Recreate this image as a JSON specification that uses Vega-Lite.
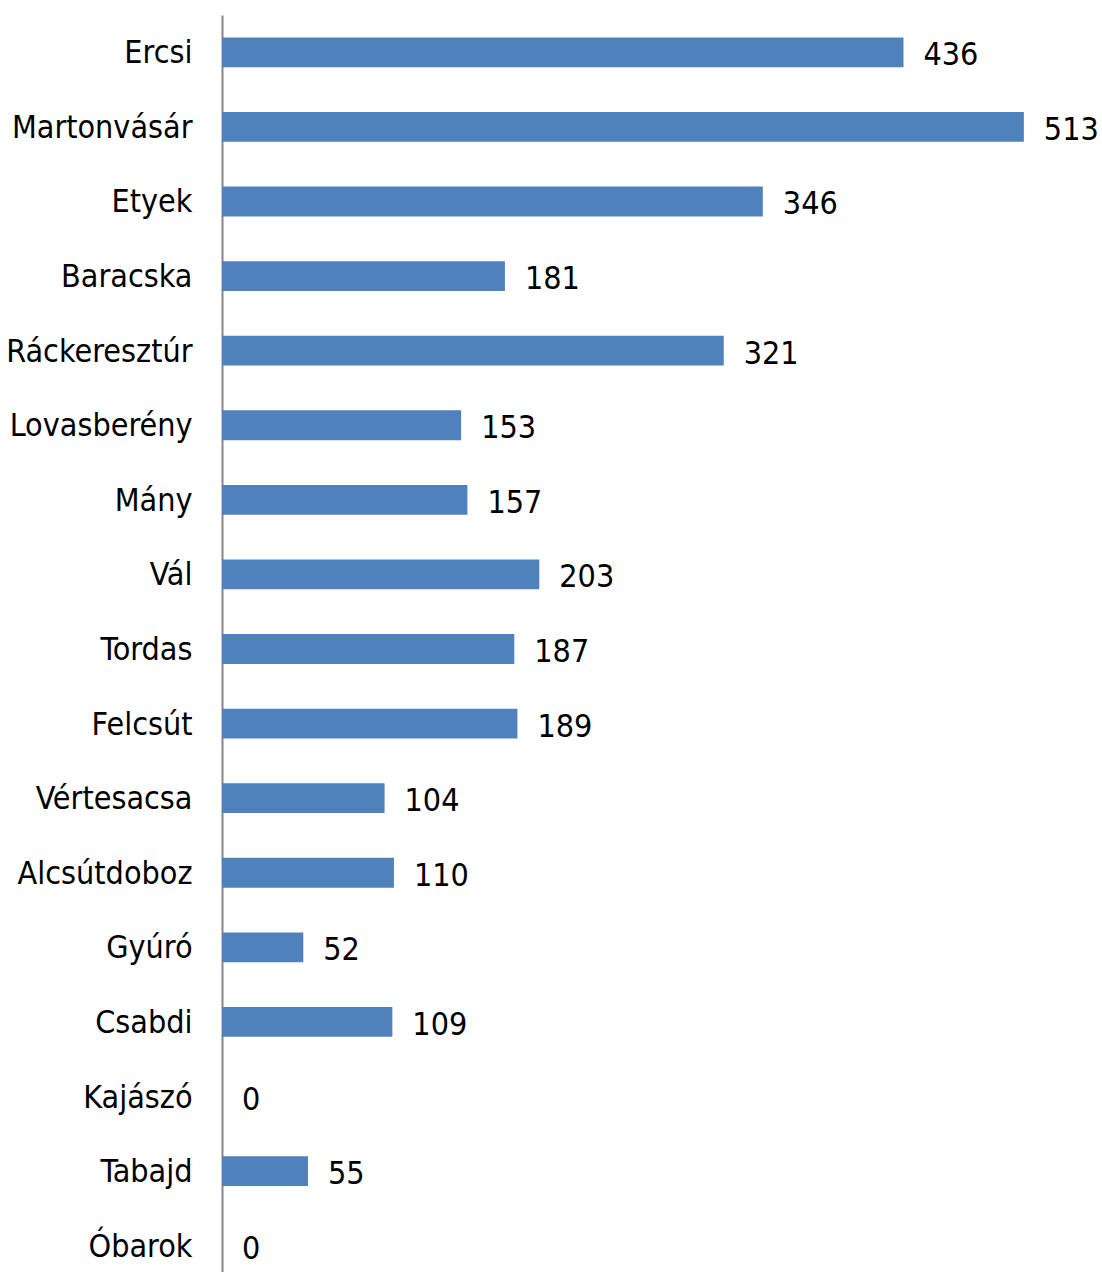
{
  "$schema": "https://vega.github.io/schema/vega-lite/v6.json",
  "autosize": {"type": "none"},
  "padding": {"left": 222, "top": 15, "right": 0, "bottom": 0},
  "width": 880,
  "height": 1268,
  "background": "white",
  "config": {"view": {"stroke": null}, "font": "DejaVu Sans Condensed"},
  "data": {"values": [
    {"name": "Ercsi", "value": 436},
    {"name": "Martonvásár", "value": 513},
    {"name": "Etyek", "value": 346},
    {"name": "Baracska", "value": 181},
    {"name": "Ráckeresztúr", "value": 321},
    {"name": "Lovasberény", "value": 153},
    {"name": "Mány", "value": 157},
    {"name": "Vál", "value": 203},
    {"name": "Tordas", "value": 187},
    {"name": "Felcsút", "value": 189},
    {"name": "Vértesacsa", "value": 104},
    {"name": "Alcsútdoboz", "value": 110},
    {"name": "Gyúró", "value": 52},
    {"name": "Csabdi", "value": 109},
    {"name": "Kajászó", "value": 0},
    {"name": "Tabajd", "value": 55},
    {"name": "Óbarok", "value": 0}
  ]},
  "encoding": {
    "y": {
      "field": "name", "type": "nominal", "sort": null,
      "scale": {"paddingInner": 0.6, "paddingOuter": 0.3},
      "axis": {
        "title": null, "ticks": false, "labelPadding": 30, "labelOffset": 1,
        "labelFont": "DejaVu Sans Condensed", "labelFontSize": 32, "labelColor": "#000000",
        "domainColor": "#868686", "domainWidth": 2, "grid": false, "labelLimit": 400
      }
    },
    "x": {
      "field": "value", "type": "quantitative",
      "scale": {"domain": [0, 563], "nice": false},
      "axis": null
    }
  },
  "layer": [
    {"mark": {"type": "bar", "color": "#4F81BD"}},
    {
      "mark": {"type": "text", "align": "left", "baseline": "middle", "dx": 20, "dy": 3,
               "font": "DejaVu Sans Condensed", "fontSize": 32, "color": "#000000"},
      "encoding": {"text": {"field": "value", "type": "quantitative"}}
    }
  ]
}
